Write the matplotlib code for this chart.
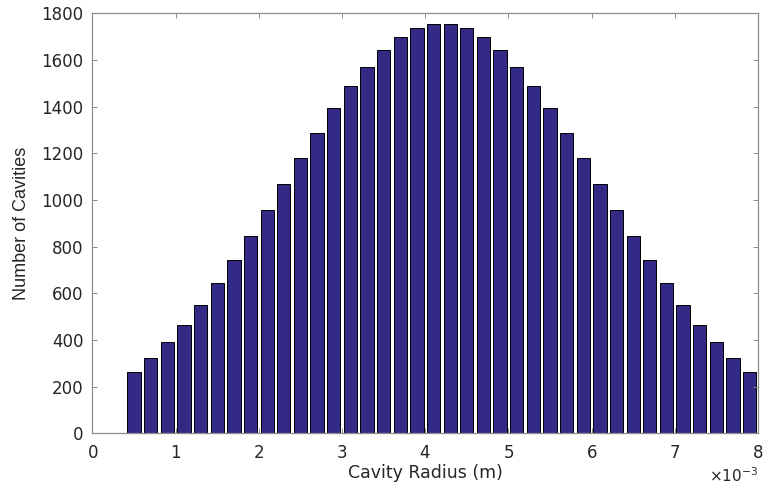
import numpy as np
import matplotlib
matplotlib.use("Agg")
import matplotlib.pyplot as plt
from matplotlib.ticker import ScalarFormatter

# ----------------------------
# DATA
# ----------------------------
radius_mm = [0.5, 0.7, 0.9, 1.1, 1.3, 1.5, 1.7, 1.9, 2.1, 2.3,
             2.5, 2.7, 2.9, 3.1, 3.3, 3.5, 3.7, 3.9, 4.1, 4.3,
             4.5, 4.7, 4.9, 5.1, 5.3, 5.5, 5.7, 5.9, 6.1, 6.3,
             6.5, 6.7, 6.9, 7.1, 7.3, 7.5, 7.7, 7.9]
counts = [264, 324, 391, 465, 550, 643, 741, 847, 956, 1068,
          1179, 1288, 1393, 1487, 1571, 1643, 1699, 1736, 1755, 1755,
          1736, 1699, 1643, 1571, 1487, 1393, 1288, 1179, 1068, 956,
          847, 741, 643, 550, 465, 391, 324, 264]

BAR_COLOR = "#332a86"
AXIS_COLOR = "#8c8c8c"
TEXT_COLOR = "#262626"

# radii in metres
radius = np.array(radius_mm) * 1e-3
bar_width = 0.8 * 0.2e-3

fig = plt.figure(figsize=(7.63, 4.86), dpi=100)
ax = fig.add_axes([0.1212, 0.1084, 0.8722, 0.864])

ax.bar(radius, counts, width=bar_width, color=BAR_COLOR,
       edgecolor="black", linewidth=0.7)

ax.set_xlim(0, 8e-3)
ax.set_ylim(0, 1800)
ax.set_xticks(np.arange(0, 9) * 1e-3)
ax.set_yticks(np.arange(0, 1801, 200))

fmt = ScalarFormatter(useMathText=True)
fmt.set_powerlimits((-2, 2))
ax.xaxis.set_major_formatter(fmt)

for sp in ax.spines.values():
    sp.set_color(AXIS_COLOR)
    sp.set_linewidth(0.9)

ax.tick_params(axis="both", direction="in", length=3.6, width=0.7,
               color=AXIS_COLOR, labelcolor=TEXT_COLOR, labelsize=12,
               top=True, right=True)
ax.tick_params(axis="x", pad=8)
ax.tick_params(axis="y", pad=6.5)
ax.xaxis.get_offset_text().set_fontsize(11)
ax.xaxis.get_offset_text().set_color(TEXT_COLOR)

ax.set_xlabel("Cavity Radius (m)", fontsize=12.5, color=TEXT_COLOR, labelpad=1)
ax.set_ylabel("Number of Cavities", fontsize=13, color=TEXT_COLOR,
              family="Liberation Sans", labelpad=8)

fig.savefig("out.png", dpi=100)
